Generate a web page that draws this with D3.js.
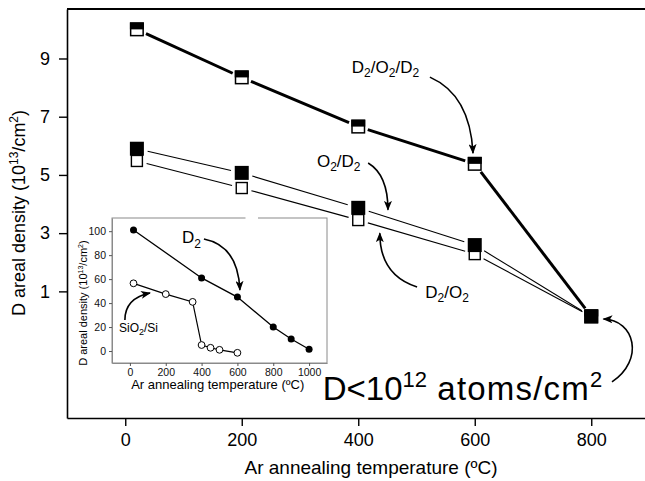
<!DOCTYPE html>
<html><head><meta charset="utf-8">
<script src="https://cdn.jsdelivr.net/npm/d3@7"></script>
<style>html,body{margin:0;padding:0;background:#fff;} svg{display:block;font-family:"Liberation Sans",Arial,Helvetica,sans-serif;}</style>
</head><body><svg id="c" width="645" height="481"></svg>
<script>
// ---- main chart data ----
const temps = [20, 200, 400, 600, 800];
const d2o2d2 = [10.0, 8.35, 6.66, 5.38, 0.14];
const o2d2 = [5.9, 5.07, 3.87, 2.59, 0.14];
const d2o2 = [5.48, 4.55, 3.45, 2.28, 0.14];
const xTicks = [0, 200, 400, 600, 800];
const yTicks = [1, 3, 5, 7, 9];
// ---- inset data ----
const insetD2Temps = [20, 400, 600, 800, 900, 1000];
const insetD2 = [101, 61, 45, 20, 10, 1.5];
const insetSiTemps = [20, 200, 350, 400, 450, 500, 600];
const insetSi = [56.5, 47.5, 41, 5, 2.7, 1, -1.5];
const insetXTicks = [0, 200, 400, 600, 800, 1000];
const insetYTicks = [0, 20, 40, 60, 80, 100];

const svg = d3.select("#c");
const x = d3.scaleLinear().domain([-100, 900]).range([67, 649.5]);
const y = d3.scaleLinear().domain([-3.35, 10.7]).range([418, 9]);
const ix = d3.scaleLinear().domain([-100, 1100]).range([112, 327]);
const iy = d3.scaleLinear().domain([-10, 111]).range([363, 218]);

// arrow marker
svg.append("defs").append("marker")
  .attr("id", "ah").attr("markerUnits", "userSpaceOnUse")
  .attr("viewBox", "0 0 10 8").attr("refX", 9).attr("refY", 4)
  .attr("markerWidth", 10).attr("markerHeight", 8).attr("orient", "auto")
  .append("path").attr("d", "M0,0 L10,4 L0,8 L2.5,4 Z").attr("fill", "#000");

// ---- main axes ----
const gx = svg.append("g").attr("transform", `translate(0,${y.range()[0]})`)
  .call(d3.axisBottom(x).tickValues(xTicks).tickSize(8).tickPadding(7).tickSizeOuter(0));
const gy = svg.append("g").attr("transform", `translate(${x.range()[0]},0)`)
  .call(d3.axisLeft(y).tickValues(yTicks).tickSize(8).tickPadding(9).tickSizeOuter(0));
[gx, gy].forEach(g => {
  g.select(".domain").attr("stroke", "#000").attr("stroke-width", 1.6);
  g.selectAll(".tick line").attr("stroke", "#000").attr("stroke-width", 1.4);
  g.selectAll(".tick text").attr("fill", "#000").style("font-size", "18px");
});
svg.append("line").attr("x1", x.range()[0]).attr("x2", x.range()[1])
  .attr("y1", y.range()[1]).attr("y2", y.range()[1]).attr("stroke", "#000").attr("stroke-width", 1.8);

// axis labels
svg.append("text").attr("x", 371).attr("y", 474).attr("text-anchor", "middle")
  .style("font-size", "19px").text("Ar annealing temperature (ºC)");
const yl = svg.append("text").attr("transform", "translate(25,213) rotate(-90)")
  .attr("text-anchor", "middle").style("font-size", "18px");
yl.append("tspan").text("D areal density (10");
yl.append("tspan").attr("dy", -7).style("font-size", "12px").text("13");
yl.append("tspan").attr("dy", 7).text("/cm");
yl.append("tspan").attr("dy", -7).style("font-size", "12px").text("2");
yl.append("tspan").attr("dy", 7).text(")");

// ---- main series ----
function segs(xs, vs, sx, sy, trim) {
  const p = xs.map((t, i) => [sx(t), sy(vs[i])]);
  const out = [];
  for (let i = 0; i < p.length - 1; i++) {
    const [x1, y1] = p[i], [x2, y2] = p[i + 1];
    const L = Math.hypot(x2 - x1, y2 - y1), ux = (x2 - x1) / L, uy = (y2 - y1) / L;
    out.push([x1 + ux * trim, y1 + uy * trim, x2 - ux * trim, y2 - uy * trim]);
  }
  return out;
}
function drawSegs(vs, w, trim) {
  svg.append("g").selectAll("line").data(segs(temps, vs, x, y, trim)).join("line")
    .attr("x1", d => d[0]).attr("y1", d => d[1]).attr("x2", d => d[2]).attr("y2", d => d[3])
    .attr("stroke", "#000").attr("stroke-width", w);
}
drawSegs(d2o2d2, 3, 10);
drawSegs(o2d2, 1.1, 11);
drawSegs(d2o2, 1.1, 10);

// half-filled squares
const hs = 14;
const hg = svg.append("g").selectAll("g").data(temps.map((t, i) => [t, d2o2d2[i]])).join("g")
  .attr("transform", d => `translate(${x(d[0])},${y(d[1])})`);
hg.append("rect").attr("x", -hs / 2 + 0.75).attr("y", -hs / 2 + 0.75).attr("width", hs - 1.5).attr("height", hs - 1.5)
  .attr("fill", "#fff").attr("stroke", "#000").attr("stroke-width", 1.5);
hg.append("rect").attr("x", -hs / 2).attr("y", -hs / 2).attr("width", hs).attr("height", hs / 2)
  .attr("fill", "#000");
// open squares
const os = 11;
svg.append("g").selectAll("rect").data(temps.map((t, i) => [t, d2o2[i]])).join("rect")
  .attr("x", d => x(d[0]) - os / 2).attr("y", d => y(d[1]) - os / 2).attr("width", os).attr("height", os)
  .attr("fill", "#fff").attr("stroke", "#000").attr("stroke-width", 1.4);
// filled squares
const fs = 14;
svg.append("g").selectAll("rect").data(temps.map((t, i) => [t, o2d2[i]])).join("rect")
  .attr("x", d => x(d[0]) - fs / 2).attr("y", d => y(d[1]) - fs / 2).attr("width", fs).attr("height", fs)
  .attr("fill", "#000");

// ---- inset ----
const ig = svg.append("g");
ig.append("rect").attr("x", ix.range()[0]).attr("y", iy.range()[1])
  .attr("width", ix.range()[1] - ix.range()[0]).attr("height", iy.range()[0] - iy.range()[1])
  .attr("fill", "#fff").attr("stroke", "#8a8a8a").attr("stroke-width", 1);
// small gap in the inset top border
ig.append("line").attr("x1", ix(645)).attr("x2", ix(715)).attr("y1", iy.range()[1]).attr("y2", iy.range()[1])
  .attr("stroke", "#fff").attr("stroke-width", 3);
const igx = ig.append("g").attr("transform", `translate(0,${iy.range()[0]})`)
  .call(d3.axisBottom(ix).tickValues(insetXTicks).tickFormat(d3.format("d")).tickSize(3).tickPadding(3).tickSizeOuter(0));
const igy = ig.append("g").attr("transform", `translate(${ix.range()[0]},0)`)
  .call(d3.axisLeft(iy).tickValues(insetYTicks).tickFormat(d3.format("d")).tickSize(3).tickPadding(3).tickSizeOuter(0));
[igx, igy].forEach(g => {
  g.select(".domain").attr("stroke", "#8a8a8a");
  g.selectAll(".tick line").attr("stroke", "#555");
  g.selectAll(".tick text").attr("fill", "#111").style("font-size", "10.5px");
});
ig.append("text").attr("x", ix(490)).attr("y", 389).attr("text-anchor", "middle")
  .style("font-size", "13px").text("Ar annealing temperature (ºC)");
const iyl = ig.append("text").attr("transform", `translate(87,${iy(40)}) rotate(-90)`)
  .attr("text-anchor", "middle").style("font-size", "11px");
iyl.append("tspan").text("D areal density (10");
iyl.append("tspan").attr("dy", -4).style("font-size", "7px").text("13");
iyl.append("tspan").attr("dy", 4).text("/cm");
iyl.append("tspan").attr("dy", -4).style("font-size", "7px").text("2");
iyl.append("tspan").attr("dy", 4).text(")");

const line = d3.line();
ig.append("path").attr("d", line(insetD2Temps.map((t, i) => [ix(t), iy(insetD2[i])])))
  .attr("fill", "none").attr("stroke", "#000").attr("stroke-width", 1.3);
ig.append("path").attr("d", line(insetSiTemps.map((t, i) => [ix(t), iy(insetSi[i])])))
  .attr("fill", "none").attr("stroke", "#000").attr("stroke-width", 1.2);
ig.append("g").selectAll("circle").data(insetD2Temps.map((t, i) => [t, insetD2[i]])).join("circle")
  .attr("cx", d => ix(d[0])).attr("cy", d => iy(d[1])).attr("r", 3.5).attr("fill", "#000");
ig.append("g").selectAll("circle").data(insetSiTemps.map((t, i) => [t, insetSi[i]])).join("circle")
  .attr("cx", d => ix(d[0])).attr("cy", d => iy(d[1])).attr("r", 3.4)
  .attr("fill", "#fff").attr("stroke", "#000").attr("stroke-width", 1);

// ---- annotations ----
function subLabel(g, px, py, parts, size, subSize, shift) {
  const t = g.append("text").attr("x", px).attr("y", py).style("font-size", size + "px");
  parts.forEach(p => {
    if (p.sub) t.append("tspan").attr("dy", shift).style("font-size", subSize + "px").text(p.s);
    else t.append("tspan").attr("dy", p.back || 0).text(p.s);
  });
  return t;
}
function arrow(g, sx, sy, pts) {
  const p = pts.map(d => [sx(d[0]), sy(d[1])]);
  const path = d3.path();
  path.moveTo(p[0][0], p[0][1]);
  if (p.length === 3) path.quadraticCurveTo(p[1][0], p[1][1], p[2][0], p[2][1]);
  else path.bezierCurveTo(p[1][0], p[1][1], p[2][0], p[2][1], p[3][0], p[3][1]);
  g.append("path").attr("d", path.toString()).attr("fill", "none").attr("stroke", "#000")
    .attr("stroke-width", 1.6).attr("marker-end", "url(#ah)");
}
const ag = svg.append("g");
// D2/O2/D2
subLabel(ag, x(389), y(8.5), [{s:"D"},{s:"2",sub:1},{s:"/O",back:-4},{s:"2",sub:1},{s:"/D",back:-4},{s:"2",sub:1}], 17, 12, 4);
arrow(ag, x, y, [[523, 8.36], [592, 7.75], [597, 5.75]]);
// O2/D2
subLabel(ag, x(329), y(5.27), [{s:"O"},{s:"2",sub:1},{s:"/D",back:-4},{s:"2",sub:1}], 17, 12, 4);
arrow(ag, x, y, [[417, 5.41], [451, 5.0], [451, 3.8]]);
// D2/O2
subLabel(ag, x(515), y(0.77), [{s:"D"},{s:"2",sub:1},{s:"/O",back:-4},{s:"2",sub:1}], 17, 12, 4);
arrow(ag, x, y, [[501, 1.15], [437, 1.56], [437, 3.0]]);
// D<10^12 atoms/cm^2
const big = ag.append("text").attr("x", x(339)).attr("y", y(-2.73)).style("font-size", "33px");
big.append("tspan").text("D<10");
big.append("tspan").attr("dy", -13).style("font-size", "22px").text("12");
big.append("tspan").attr("dy", 13).style("letter-spacing", "1.2px").text(" atoms/cm");
big.append("tspan").attr("dy", -13).style("font-size", "22px").text("2");
arrow(ag, x, y, [[835.6, -2.11], [892, -1.35], [875, 0.02], [821, 0.05]]);
// inset annotations
subLabel(ag, ix(290), iy(90), [{s:"D"},{s:"2",sub:1}], 17, 12, 5);
arrow(ag, ix, iy, [[413, 93.5], [603, 88], [614, 51]]);
subLabel(ag, ix(-61), iy(15.9), [{s:"SiO"},{s:"2",sub:1},{s:"/Si",back:-3}], 12, 9, 3);
arrow(ag, ix, iy, [[-28, 25.9], [-28, 44], [112, 48.4]]);
</script></body></html>
